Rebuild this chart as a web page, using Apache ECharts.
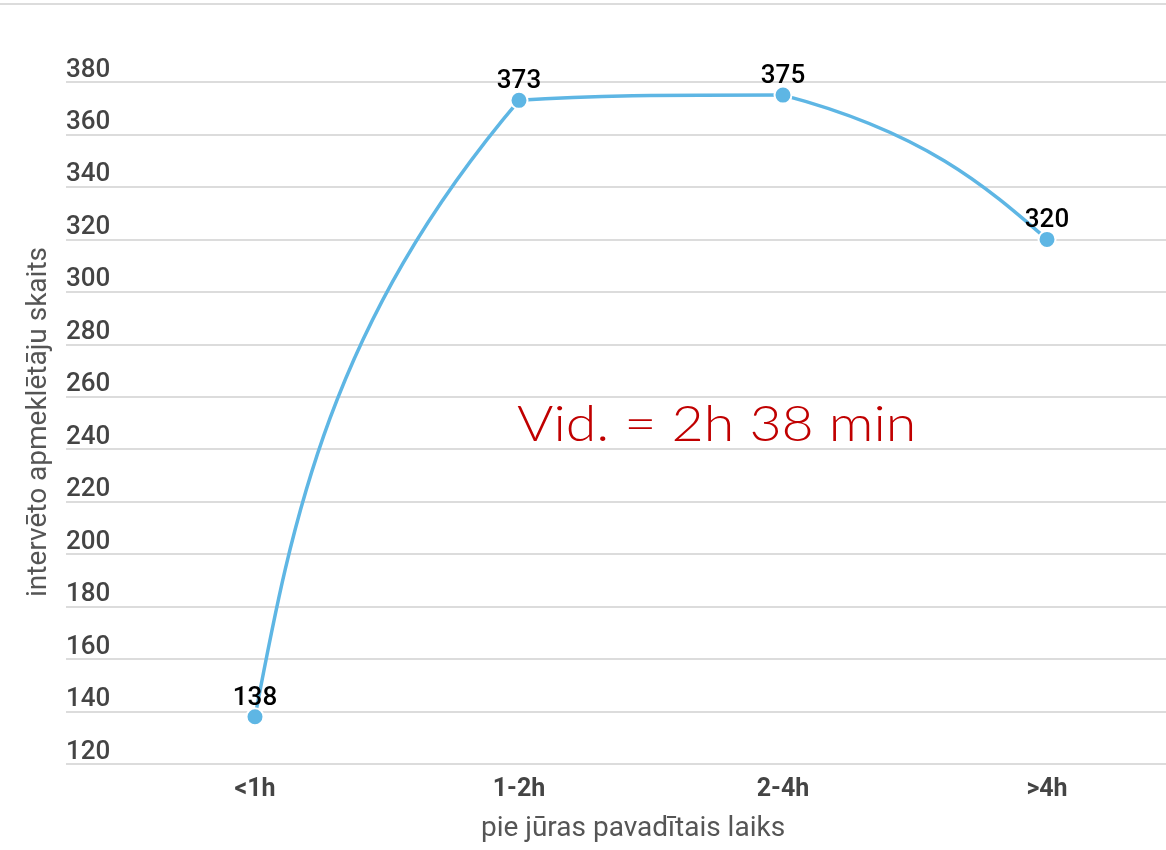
<!DOCTYPE html>
<html>
<head>
<meta charset="utf-8">
<script src="https://cdn.jsdelivr.net/npm/echarts@6/dist/echarts.min.js"></script>
<style>
html,body{margin:0;padding:0;background:#fff;}
#chart{width:1166px;height:850px;}
</style>
</head>
<body>
<div id="chart"></div>
<script>
const categories = ['<1h', '1-2h', '2-4h', '>4h'];
const visitors = [138, 373, 375, 320];
const yTicks = { min: 120, max: 380, interval: 20 };
const xTitle = 'pie jūras pavadītais laiks';
const yTitle = 'intervēto apmeklētāju skaits';
const note = 'Vid. = 2h 38 min';

const LINE_COLOR = '#5eb6e4';
const chart = echarts.init(document.getElementById('chart'));

function clamp(v, a, b) { const lo = Math.min(a, b), hi = Math.max(a, b); return Math.max(lo, Math.min(hi, v)); }

function curveRender(params, api) {
  if (params.dataIndex !== 0) return null;
  const pts = visitors.map((v, i) => api.coord([i, v]));
  const n = pts.length, s = 0.5;
  const left = [], right = [];
  for (let i = 1; i < n - 1; i++) {
    const p = pts[i], a = pts[i - 1], b = pts[i + 1];
    const vx = b[0] - a[0], vy = b[1] - a[1];
    const d0 = Math.hypot(p[0] - a[0], p[1] - a[1]);
    const d1 = Math.hypot(b[0] - p[0], b[1] - p[1]);
    const r1 = d1 / (d0 + d1), r0 = 1 - r1;
    left[i] = [p[0] - vx * s * r0, clamp(p[1] - vy * s * r0, p[1], a[1])];
    right[i] = [p[0] + vx * s * r1, clamp(p[1] + vy * s * r1, p[1], b[1])];
  }
  const f = 0.5;
  right[0] = [pts[0][0] + (left[1][0] - pts[0][0]) * f, pts[0][1] + (left[1][1] - pts[0][1]) * f];
  const L = n - 1;
  left[L] = [pts[L][0] + (right[L - 1][0] - pts[L][0]) * f, pts[L][1] + (right[L - 1][1] - pts[L][1]) * f];
  const children = [];
  for (let i = 0; i < n - 1; i++) {
    children.push({
      type: 'bezierCurve',
      shape: {
        x1: pts[i][0], y1: pts[i][1], x2: pts[i + 1][0], y2: pts[i + 1][1],
        cpx1: right[i][0], cpy1: right[i][1], cpx2: left[i + 1][0], cpy2: left[i + 1][1]
      },
      style: { stroke: LINE_COLOR, lineWidth: 3.5, fill: null }
    });
  }
  return { type: 'group', children };
}

const GRID_TOP = 82, GRID_H = 682;

chart.setOption({
  animation: false,
  backgroundColor: '#fff',
  grid: [
    { left: 66, right: 0, top: GRID_TOP, height: GRID_H, outerBoundsMode: 'none' },
    { left: 123, width: 1056, top: GRID_TOP, height: GRID_H, outerBoundsMode: 'none' }
  ],
  xAxis: [
    { type: 'value', gridIndex: 0, show: false, min: 0, max: 1 },
    {
      type: 'category', gridIndex: 1, data: categories, boundaryGap: true,
      axisLine: { show: false }, axisTick: { show: false }, splitLine: { show: false },
      axisLabel: { color: '#444', fontSize: 25, fontWeight: 'bold', fontFamily: 'Roboto', margin: 13 }
    }
  ],
  yAxis: [
    {
      type: 'value', gridIndex: 0, min: yTicks.min, max: yTicks.max, interval: yTicks.interval,
      axisLine: { show: false }, axisTick: { show: false },
      splitLine: { show: true, lineStyle: { color: '#dcdcdc', width: 2 } },
      axisLabel: {
        inside: true, margin: 0, align: 'left', verticalAlign: 'bottom',
        color: '#444', fontSize: 26, fontWeight: 500, fontFamily: 'Roboto', padding: [0, 0, -1, 0]
      }
    },
    { type: 'value', gridIndex: 1, min: yTicks.min, max: yTicks.max, interval: yTicks.interval, show: false }
  ],
  series: [
    {
      type: 'custom', xAxisIndex: 1, yAxisIndex: 1,
      data: visitors.map((v, i) => [i, v]),
      renderItem: curveRender, z: 2, silent: true, clip: false
    },
    {
      type: 'scatter', xAxisIndex: 1, yAxisIndex: 1,
      data: visitors, symbol: 'circle', symbolSize: 17, z: 3,
      itemStyle: { color: LINE_COLOR, borderColor: '#fff', borderWidth: 2, opacity: 1 },
      label: {
        show: true, position: 'top', distance: -4, color: '#000',
        fontSize: 26, fontWeight: 500, fontFamily: 'Roboto'
      }
    }
  ],
  graphic: [
    { type: 'line', shape: { x1: 0, y1: 4, x2: 1166, y2: 4 }, style: { stroke: '#dcdcdc', lineWidth: 2 }, silent: true },
    {
      type: 'text', x: 633, y: 829,
      style: { text: xTitle, fill: '#555', font: '28px Roboto', textAlign: 'center', textVerticalAlign: 'middle' }
    },
    {
      type: 'text', x: 39, y: 422, rotation: Math.PI / 2,
      style: { text: yTitle, fill: '#555', font: '28px Roboto', textAlign: 'center', textVerticalAlign: 'middle' }
    },
    {
      type: 'text', x: 517, y: 425, scaleX: 1.11,
      style: { text: note, fill: '#c00000', font: '300 50px Lato', textAlign: 'left', textVerticalAlign: 'middle' }
    }
  ]
});
</script>
</body>
</html>
